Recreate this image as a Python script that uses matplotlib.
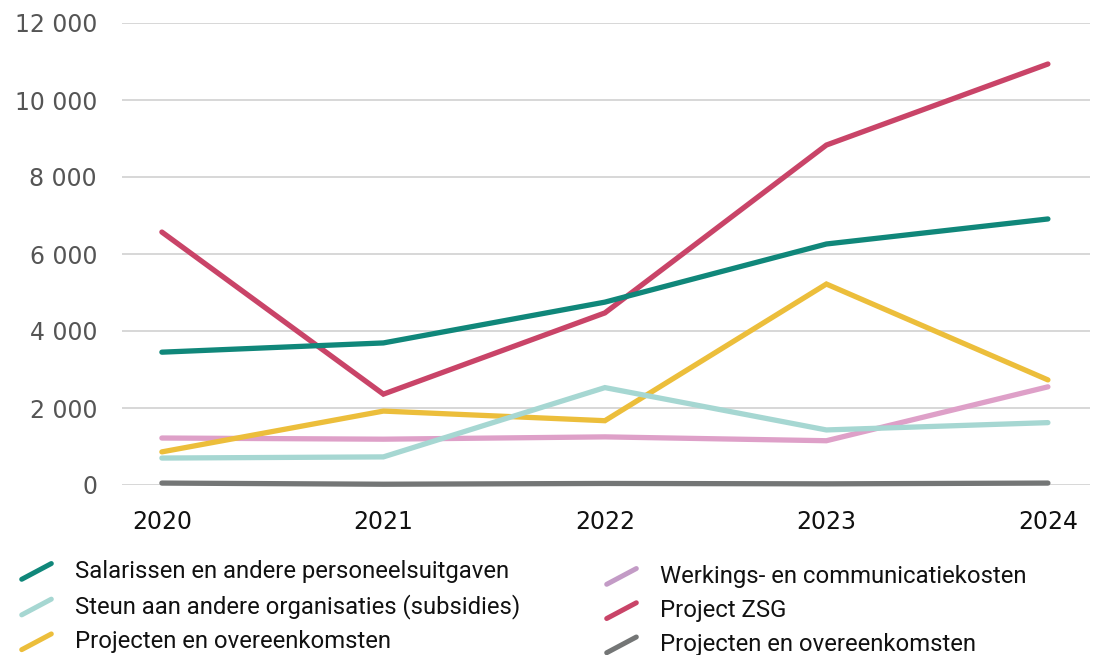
import matplotlib
matplotlib.use("Agg")
import matplotlib.pyplot as plt
from matplotlib.lines import Line2D
from matplotlib.legend_handler import HandlerBase
from matplotlib.ticker import FuncFormatter

years = [2020, 2021, 2022, 2023, 2024]

salarissen = [3450, 3690, 4750, 6260, 6910]
steun = [700, 730, 2530, 1430, 1620]
projecten = [860, 1920, 1670, 5220, 2730]
werkings = [1220, 1190, 1250, 1150, 2550]
project_zsg = [6570, 2360, 4470, 8830, 10935]
projecten_overig = [50, 20, 40, 30, 50]

labels = [
    "Salarissen en andere personeelsuitgaven",
    "Steun aan andere organisaties (subsidies)",
    "Projecten en overeenkomsten",
    "Werkings- en communicatiekosten",
    "Project ZSG",
    "Projecten en overeenkomsten",
]
series = [salarissen, steun, projecten, werkings, project_zsg, projecten_overig]
colors = ["#10877a", "#a6d7d2", "#ecbe3b", "#dea0c8", "#c94468", "#747676"]
legend_colors = ["#10877a", "#a6d7d2", "#ecbe3b", "#c39bc6", "#c94468", "#747676"]
y_ticks = [0, 2000, 4000, 6000, 8000, 10000, 12000]

plt.rcParams["font.family"] = ["Roboto", "DejaVu Sans"]

fig = plt.figure(figsize=(10.93, 6.55), dpi=100)
W, H = 1093, 655
ax = fig.add_axes([122 / W, (H - 485) / H, (1090 - 122) / W, (485 - 23) / H])

# draw in reverse so the first series ends up on top
for vals, col in list(zip(series, colors))[::-1]:
    ax.plot(years, vals, color=col, lw=3.8, solid_capstyle="round",
            solid_joinstyle="miter", clip_on=False, zorder=3)

ax.set_xlim(2019.82, 2024.19)
ax.set_ylim(0, 12000)
ax.set_yticks(y_ticks)
ax.yaxis.set_major_formatter(FuncFormatter(lambda v, p: f"{int(v):,}".replace(",", " ")))
ax.set_xticks(years)
ax.grid(axis="y", color="#d4d4d4", lw=1.3, zorder=0)
for s in ax.spines.values():
    s.set_visible(False)
ax.tick_params(axis="both", length=0)
for lab in ax.get_yticklabels():
    lab.set_fontfamily("DejaVu Sans")
for lab in ax.get_xticklabels():
    lab.set_fontfamily("DejaVu Sans")
ax.tick_params(axis="y", labelsize=17, labelcolor="#555555", pad=18)
ax.tick_params(axis="x", labelsize=17, labelcolor="#111111", pad=18)


class DiagonalHandler(HandlerBase):
    def create_artists(self, legend, orig_handle, xdescent, ydescent,
                       width, height, fontsize, trans):
        x0, y0 = -xdescent, -ydescent
        ln = Line2D([x0 + 0.1 * width, x0 + 0.9 * width],
                    [y0 - 0.05 * height, y0 + 0.85 * height],
                    color=orig_handle.get_color(), lw=3.6,
                    solid_capstyle="round", transform=trans)
        return [ln]


handles = [Line2D([], [], color=c) for c in legend_colors]
common = dict(frameon=False, fontsize=17.2, handlelength=1.55, handleheight=0.75,
              handletextpad=0.85, labelspacing=0.47, borderpad=0, borderaxespad=0,
              loc="upper left", handler_map={Line2D: DiagonalHandler()},
              labelcolor="#111111")
leg1 = fig.legend(handles[:3], labels[:3], bbox_to_anchor=(18 / W, 1 - 560 / H), **common)
leg2 = fig.legend(handles[3:], labels[3:], bbox_to_anchor=(603 / W, 1 - 565 / H), **common)

fig.savefig("out.png", dpi=100, facecolor="white")
